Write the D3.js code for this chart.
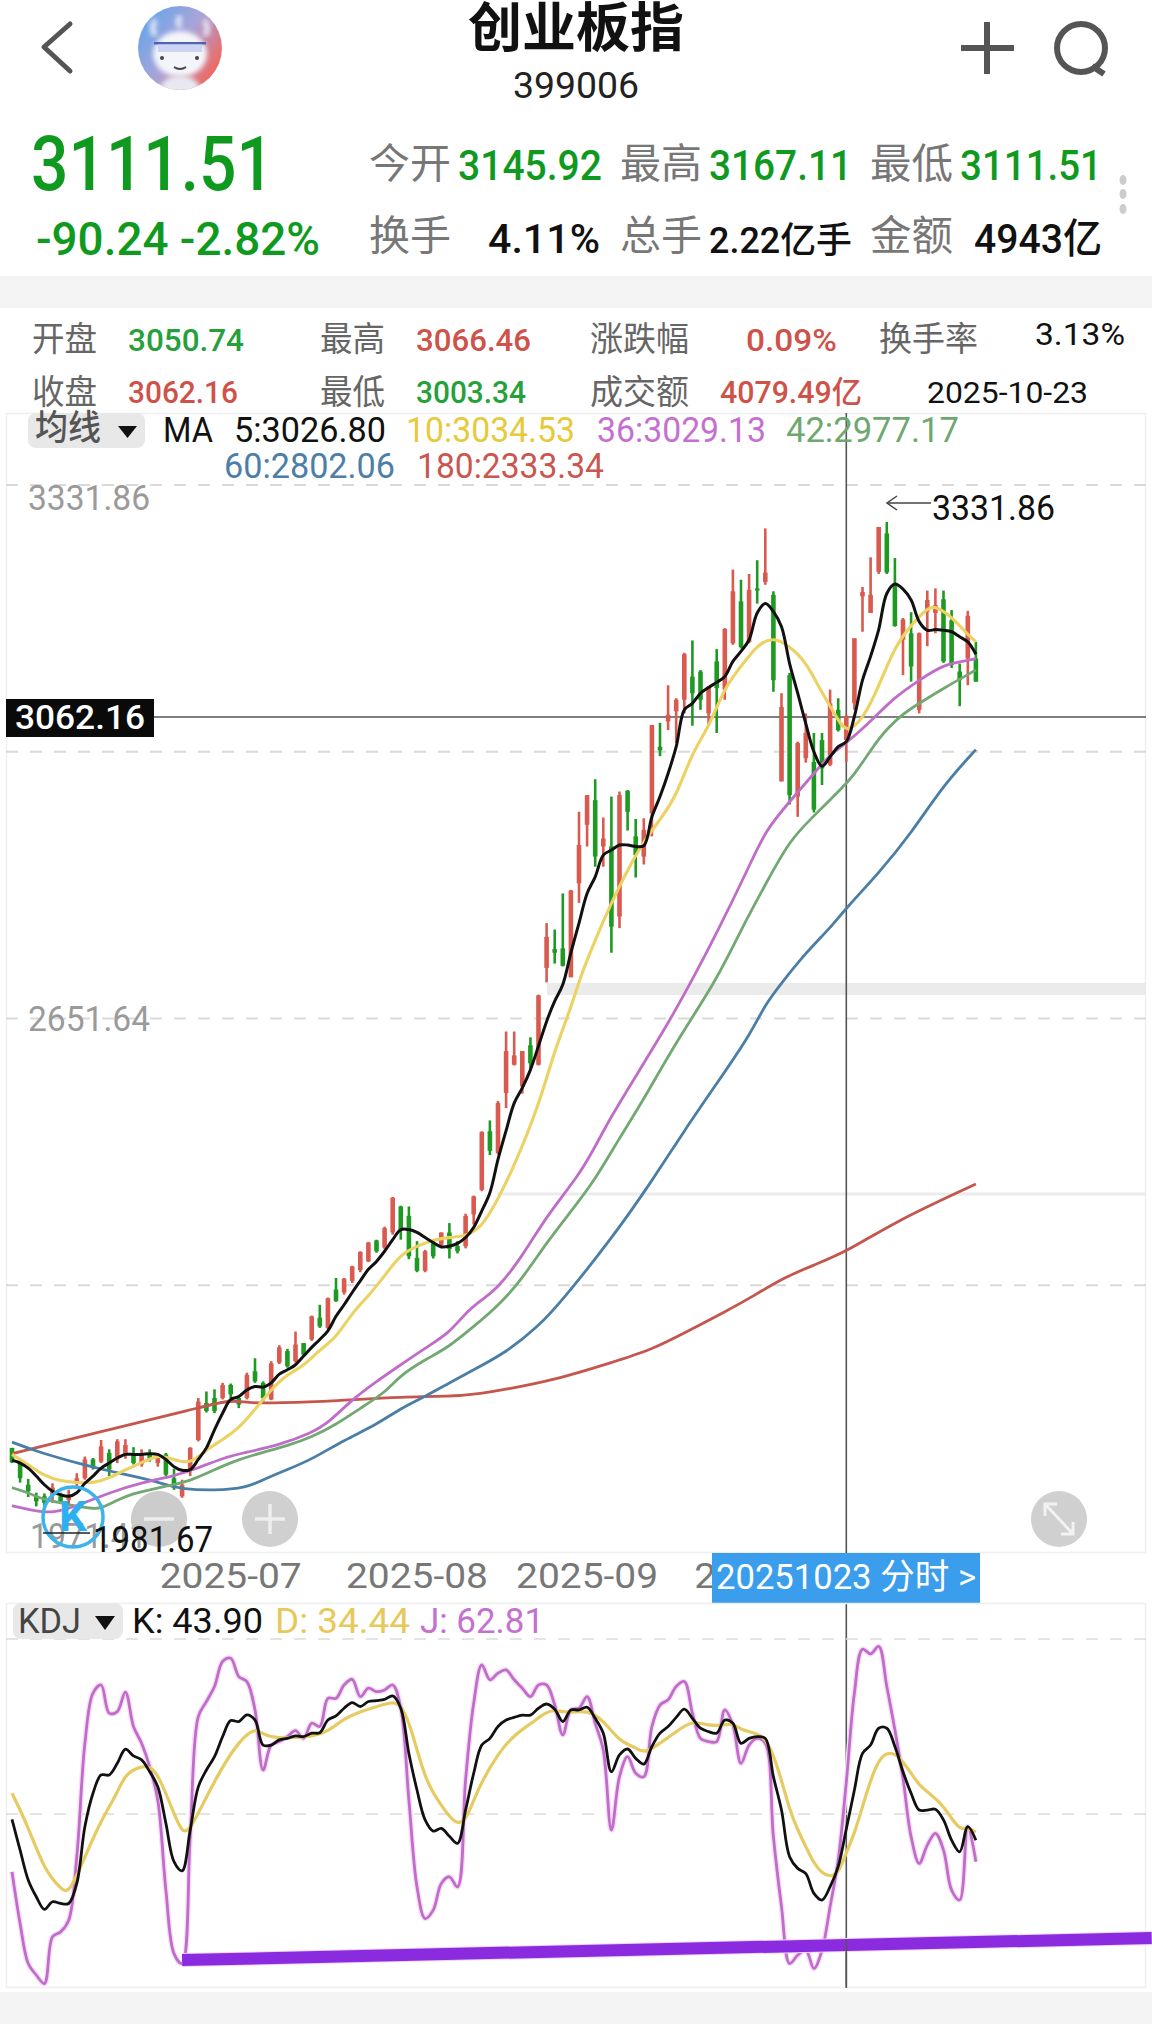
<!DOCTYPE html>
<html><head><meta charset="utf-8">
<script src="https://cdn.jsdelivr.net/npm/d3@7"></script>
<style>html,body{margin:0;padding:0;background:#fff}svg{display:block}</style>
</head><body><svg id="c" width="1152" height="2024" xmlns="http://www.w3.org/2000/svg"></svg>
<script>
// ---- data: [open, high, low, close] per trading day
const ohlc = [
[2051,2051,2030,2031],[2030,2035,2003,2009],[2000,2008,1983,1991],[1984,1989,1970,1977],[1984,1988,1969,1975],
[1986,2002,1975,1996],[1984,1989,1975,1977],[1979,1993,1972,1986],[2001,2016,1998,2009],[2009,2039,2007,2035],
[2035,2037,2021,2023],[2032,2062,2030,2053],[2044,2049,2012,2021],[2037,2063,2030,2060],[2042,2063,2036,2055],
[2043,2052,2028,2030],[2028,2049,2025,2042],[2044,2049,2032,2035],[2030,2044,2025,2039],[2042,2044,2012,2014],
[2009,2022,1993,1996],[1984,2007,1982,2000],[2019,2052,2012,2051],[2062,2120,2060,2115],[2113,2129,2100,2102],
[2120,2132,2099,2102],[2120,2141,2118,2138],[2138,2140,2120,2125],[2120,2122,2106,2111],[2120,2155,2118,2152],
[2157,2175,2141,2143],[2141,2143,2115,2120],[2118,2171,2117,2168],[2169,2193,2167,2190],[2185,2188,2162,2164],
[2171,2212,2169,2194],[2196,2196,2180,2180],[2201,2234,2199,2233],[2231,2249,2217,2219],[2217,2259,2215,2258],
[2270,2286,2253,2254],[2266,2286,2263,2285],[2282,2303,2279,2302],[2297,2323,2294,2322],[2309,2336,2308,2335],
[2338,2339,2321,2323],[2328,2357,2326,2355],[2349,2398,2346,2397],[2385,2386,2339,2353],[2372,2385,2312,2316],
[2314,2337,2294,2296],[2296,2325,2294,2323],[2334,2339,2313,2316],[2332,2349,2330,2349],[2349,2362,2313,2326],
[2330,2337,2320,2323],[2330,2375,2327,2372],[2374,2400,2360,2399],[2408,2489,2406,2488],[2489,2504,2456,2462],
[2459,2531,2457,2528],[2542,2627,2521,2600],[2581,2627,2580,2594],[2551,2600,2541,2600],[2608,2619,2574,2583],
[2581,2678,2580,2677],[2715,2777,2695,2758],[2741,2768,2721,2736],[2742,2818,2717,2718],[2702,2823,2702,2822],
[2832,2931,2805,2885],[2913,2954,2883,2954],[2947,2976,2855,2869],[2883,2923,2855,2894],[2883,2952,2736,2772],
[2786,2959,2770,2954],[2960,2961,2905,2931],[2897,2921,2840,2871],[2869,2922,2858,2906],[2929,3051,2897,3051],
[3021,3054,3008,3016],[3056,3106,3044,3065],[3070,3088,3026,3086],[3086,3151,3067,3149],[3118,3168,3050,3095],
[3125,3127,3072,3086],[3067,3105,3052,3104],[3139,3156,3040,3102],[3100,3185,3086,3184],[3164,3266,3162,3236],
[3222,3252,3157,3159],[3166,3260,3164,3238],[3240,3279,3219,3237],[3249,3323,3245,3262],[3231,3236,3097,3113],
[2973,3095,2973,3076],[3120,3123,2941,2954],[2952,3028,2924,3026],[3005,3067,2999,3040],[3000,3040,2930,2934],
[3030,3040,2968,2991],[2996,3100,2994,3081],[3072,3088,3042,3044],[3030,3065,3000,3063],[3081,3171,3072,3171],
[3229,3242,3180,3235],[3206,3283,3206,3231],[3263,3325,3260,3325],[3316,3332,3260,3262],[3247,3282,3187,3188],
[3169,3199,3120,3197],[3178,3207,3111,3132],[3072,3179,3067,3178],[3208,3237,3160,3224],[3206,3240,3178,3217],
[3225,3237,3137,3139],[3196,3210,3130,3134],[3125,3136,3077,3113],[3143,3209,3106,3202],[3143,3166,3111,3111]];

const ma5 = [2034,2030,2023,2012,2000,1991,1986,1984,1989,2002,
2012,2023,2030,2037,2042,2042,2042,2043,2042,2035,
2025,2020,2021,2035,2051,2076,2099,2118,2122,2131,
2136,2135,2141,2153,2159,2166,2178,2190,2201,2213,
2233,2249,2266,2282,2298,2309,2323,2339,2353,2353,
2349,2342,2335,2329,2330,2334,2342,2356,2379,2404,
2450,2490,2528,2549,2574,2607,2641,2669,2692,2736,
2777,2818,2841,2871,2878,2885,2885,2883,2884,2924,
2952,2984,3021,3072,3081,3095,3103,3110,3118,3139,
3153,3169,3206,3219,3208,3187,3136,3095,3053,3014,
2994,3007,3021,3028,3063,3113,3146,3183,3233,3246,
3239,3224,3194,3182,3183,3182,3180,3173,3166,3149];

const ma10Idx = [0,2,4,6,8,10,12,14,16,18,20,22,24,26,28,30,32,34,36,38,40,42,44,46,48,50,52,54,56,58,60,62,65,67,69,70,72,74,76,78,80,82,84,86,88,90,92,94,96,98,100,102,103,105,107,109,111,113,114,116,118,119];
const ma10 = [2042,2028,2012,2005,2003,2002,2009,2021,2030,2042,2035,2028,2049,2062,2078,2104,2132,2153,2164,2187,2203,2238,2261,2289,2319,2330,2339,2342,2344,2356,2395,2441,2523,2602,2659,2698,2754,2805,2851,2890,2920,2952,3014,3047,3104,3132,3162,3173,3160,3139,3095,3058,3040,3058,3104,3160,3189,3213,3216,3201,3176,3166];

const ma36Idx = [0,2,5,9,12,16,20,23,26,29,33,37,39,42,45,48,51,54,56,58,60,63,66,70,72,74,77,81,84,87,91,93,96,99,101,103,106,109,112,115,118,119];
const ma36 = [1971,1966,1959,1975,1989,2003,2012,2023,2037,2045,2055,2072,2085,2118,2143,2166,2189,2210,2238,2256,2272,2316,2372,2428,2468,2510,2565,2638,2699,2763,2855,2905,2945,2984,3010,3026,3056,3090,3113,3135,3140,3143];

const ma42Idx = [0,2,4,6,8,10,11,13,15,17,19,22,25,28,31,34,37,40,43,46,48,51,54,57,60,63,66,69,72,75,78,82,87,90,93,96,99,101,104,107,110,112,115,119];
const ma42 = [1996,1989,1979,1975,1970,1967,1967,1979,1988,1993,1998,2005,2021,2035,2045,2054,2066,2083,2106,2127,2152,2173,2191,2219,2247,2285,2335,2378,2422,2480,2533,2613,2698,2768,2830,2892,2925,2948,2980,3035,3067,3081,3102,3127];

const ma60Idx = [0,3,9,12,17,19,21,25,29,31,34,37,41,45,48,51,54,57,61,65,68,74,79,83,87,91,93,95,98,101,103,107,111,115,119];
const ma60 = [2059,2046,2027,2019,2007,2000,1994,1992,1996,2007,2021,2035,2062,2083,2106,2122,2141,2159,2183,2219,2256,2340,2420,2490,2555,2620,2665,2694,2736,2770,2798,2846,2901,2968,3017];

const ma180Idx = [0,10,23,27,29,33,40,48,56,61,67,74,79,83,88,92,95,99,103,109,119];
const ma180 = [2043,2071,2106,2118,2113,2113,2116,2122,2122,2132,2145,2169,2187,2210,2239,2264,2285,2304,2322,2364,2416];

const kdjK = [47.8,35.4,23.3,16.5,11.4,14.5,13.8,13.8,21.9,44.9,
58.4,65.8,65.8,70.5,76.2,73.5,71.9,67.1,61,46.2,
30.7,27,43.5,61,67.8,73.2,81.3,87.8,87.4,90.1,
88,77.9,77.9,80,80.6,81.6,81.3,82.7,82.9,88,
89.7,92.8,95.1,93.5,95.5,95.9,96.4,97.8,92.8,74.5,
59.7,47.6,43.1,44.2,41,38.1,51.6,66.5,77.9,80.6,
85.4,88,89.1,90,90,92.8,94.5,92.4,87.4,92.1,
92.1,93.2,88.7,82.7,67.1,73.9,76.3,72.5,70.2,77.3,
82.7,85.4,89.1,92.4,88.7,84.7,83.3,82.7,88,86.7,
78.6,80.6,81.3,80.6,65.1,51.6,32.7,28,25.9,17.9,
15.2,20.6,28.7,43.9,59.7,74.5,77.9,84.7,84.7,77.3,
67.1,58.4,51.6,51.6,51.9,47.6,39.4,34.7,44.9,39.4];

const kdjJ = [26.6,5.7,-10.5,-15.2,-18.6,0.3,2.3,7,32.7,78.6,
98.9,102.2,90.8,91.4,99.3,85.4,78.6,69.1,55.6,19.2,
-6.5,-10.5,40.8,89.4,95.5,101.6,111.7,113,105.6,103.6,
92.1,67.8,77.9,79.3,81.3,83.7,80.6,86.7,85.4,96.8,
96.8,102.2,104.5,97.5,100.9,99.5,100.2,102.2,92.8,55.7,
20.5,7.7,11.1,21.9,24.6,20.5,63.8,94.8,110.3,104.3,
107,108.3,104.3,100.9,97.5,102.2,102.2,94.1,82,92.1,
92.8,97.5,86.7,75.9,43.5,65.1,73.2,66.5,65.1,85.4,
94.1,96.2,101.6,103.6,90.8,80.6,79.3,79.3,92.1,86,
70.5,77.9,80.6,78.6,40.8,12.5,-10.5,-7.1,-5.1,-12.5,
-5.1,12.5,31.4,62.81,98.9,116.7,114.8,117.8,101.6,84,
64.4,40.8,30,37.4,42.2,35.4,19.2,15.2,44.9,30.7];

const kdjDIdx = [0,2,4,6,7,9,11,13,14,16,17,18,20,21,22,24,26,28,30,31,33,35,37,39,41,43,45,47,48,49,50,51,52,53,54,55,56,57,58,60,62,64,66,67,69,71,73,75,77,78,80,82,84,86,88,89,90,92,93,94,95,96,97,98,99,100,101,102,103,104,105,106,107,108,109,110,111,112,113,114,115,116,117,118,119];
const kdjD = [58.4,44.9,27.3,19.9,17.2,32.7,47.5,58.4,66.5,69.4,69.1,66.5,50.2,42.2,43.5,57,69.2,79.3,85.1,82,80.6,81,81.3,83.3,88.7,91.4,93.4,95.5,94.1,87.4,75.9,65.1,58.4,53.6,48.9,45.9,47.5,55.6,63.1,74.5,82,86.4,91.4,92.1,90.8,92.1,88,79.3,77,74.3,78.6,83.3,88,85.6,86,86.7,84,82.6,80.6,73.9,63.8,51.6,43.5,36.8,30,26,24.6,25.7,34.44,42,53,63.8,71.9,74.8,74.5,71.2,66.5,61.7,59,56.3,53,48.2,43.8,44.2,42.8];

const trendIdx = [21,140.7];
const trendVal = [-9.1,-0.2];

const gridPrices = [3331.86,2991.75,2651.64,2311.52,1971.41];
const priceLabels = [3331.86,2651.64,1971.41];
const kdjGrid = [120,50];
const monthTicks = [["2025-07",27],["2025-08",50],["2025-09",71],["2025-10",93]];
const crossIndex = 103, lastClose = 3062.16, periodHigh = 3331.86, periodLow = 1981.67;

// ---- scales
const x = d3.scaleLinear().domain([0,119]).range([12,975.9]);
const y = d3.scaleLinear().domain([1981.67,3331.86]).range([1498,522]);
const yGrid = d3.scaleLinear().domain([1971.41,3331.86]).range([1552,485]);
const yK = d3.scaleLinear().domain([-20,120]).range([1987,1641]);

const RED="#d95a4e", GREEN="#1e9a22", BLACK="#111", YEL="#ecd163", PUR="#c06cc9", MGRN="#72a872", BLUE="#4a7ea6", MRED="#c4564d";
const svg = d3.select("#c");
const CJK = '"Roboto","Noto Sans CJK SC",sans-serif';

function T(s,x0,x1,base,size,color,weight){
  return svg.append("text").attr("x",x0).attr("y",base).attr("font-family",CJK)
   .attr("font-size",size*1.06).attr("fill",color).attr("font-weight",weight||400)
   .attr("textLength",x1-x0).attr("lengthAdjust","spacingAndGlyphs").text(s);
}
function rect(a,b,w,h,f){return svg.append("rect").attr("x",a).attr("y",b).attr("width",w).attr("height",h).attr("fill",f);}
function ln(a,b,c,d,s,w){return svg.append("line").attr("x1",a).attr("y1",b).attr("x2",c).attr("y2",d).attr("stroke",s).attr("stroke-width",w);}

// ---- page bands
rect(0,276,1152,32,"#f4f4f4");
rect(0,1992,1152,32,"#f4f4f4");

// ---- header
svg.append("path").attr("d","M70,24L44,47L70,71").attr("fill","none").attr("stroke","#555").attr("stroke-width",5).attr("stroke-linecap","round").attr("stroke-linejoin","round");
const defs = svg.append("defs");
const g1 = defs.append("linearGradient").attr("id","av").attr("x1","0").attr("y1","0").attr("x2","1").attr("y2","0.7");
g1.append("stop").attr("offset","0").attr("stop-color","#5aa5ee");
g1.append("stop").attr("offset","0.55").attr("stop-color","#a8a4d8");
g1.append("stop").attr("offset","1").attr("stop-color","#f2665c");
defs.append("filter").attr("id","bl").append("feGaussianBlur").attr("stdDeviation",2.5);
defs.append("clipPath").attr("id","avc").append("circle").attr("cx",180).attr("cy",48).attr("r",42);
svg.append("circle").attr("cx",180).attr("cy",48).attr("r",42).attr("fill","url(#av)");
const av = svg.append("g").attr("clip-path","url(#avc)");
av.append("ellipse").attr("cx",180).attr("cy",54).attr("rx",27).attr("ry",23).attr("fill","#f4f5fb").attr("filter","url(#bl)");
av.append("ellipse").attr("cx",180).attr("cy",90).attr("rx",20).attr("ry",15).attr("fill","#e8e8f2").attr("filter","url(#bl)");
av.append("path").attr("d","M155,36Q150,26 156,20M205,36Q210,26 204,20M180,28Q176,20 181,16").attr("fill","none").attr("stroke","#e6ebf8").attr("stroke-width",5).attr("filter","url(#bl)");
av.append("rect").attr("x",154).attr("y",42).attr("width",52).attr("height",2.5).attr("fill","#4f63b4");
av.append("rect").attr("x",158).attr("y",44).attr("width",44).attr("height",8).attr("fill","#b9c6ee").attr("opacity",0.7);
av.append("circle").attr("cx",162).attr("cy",58).attr("r",2).attr("fill","#444");
av.append("circle").attr("cx",197).attr("cy",58).attr("r",2).attr("fill","#444");
av.append("path").attr("d","M174,67Q180,71 186,67").attr("fill","none").attr("stroke","#444").attr("stroke-width",1.8);

T("创业板指",468,684,47,50,"#111",700);
T("399006",513,639,98,34,"#222");
ln(961,48,1014,48,"#555",6); ln(987,22,987,74,"#555",6);
svg.append("circle").attr("cx",1081).attr("cy",48).attr("r",24).attr("fill","none").attr("stroke","#555").attr("stroke-width",6);
ln(1092,66,1104,74,"#555",6);

const HG="#0f9a1f", GY="#777";
T("3111.51",31,274,190,72,HG,500);
T("-90.24 -2.82%",36,320,255,43,HG,500);
[["今开",369,451,"3145.92",458,602,HG],["最高",620,702,"3167.11",709,852,HG],["最低",870,953,"3111.51",960,1102,HG]].forEach(r=>{
  T(r[0],r[1],r[2],178,39,GY); T(r[3],r[4],r[5],180,40,r[6],500);
});
[["换手",369,451,"4.11%",488,600],["总手",620,702,"2.22亿手",709,852],["金额",870,953,"4943亿",974,1102]].forEach(r=>{
  T(r[0],r[1],r[2],250,39,GY); T(r[3],r[4],r[5],253,r[3].length>5?34:39,"#111",500);
});
[180,194,209].forEach(c=>svg.append("ellipse").attr("cx",1123).attr("cy",c).attr("rx",3.5).attr("ry",5).attr("fill","#ccc"));

// ---- stats rows
const GY2="#666";
[["开盘",32,97,351],["最高",320,385,351],["涨跌幅",590,689,351],["换手率",879,978,351],["收盘",32,97,404],["最低",320,385,404],["成交额",590,689,404]].forEach(r=>T(r[0],r[1],r[2],r[3],32,GY2));
T("3050.74",128,244,351,29,"#25a03a",500);
T("3066.46",416,531,351,29,"#cf524a",500);
T("0.09%",746,837,351,29,"#cf524a",500);
T("3.13%",1035,1125,345,29,"#111");
T("3062.16",128,238,403,29,"#cf524a",500);
T("3003.34",416,526,403,29,"#25a03a",500);
T("4079.49亿",720,862,403,29,"#cf524a",500);
T("2025-10-23",927,1088,403,28,"#111");

// ---- main panel frame + grid
svg.append("rect").attr("x",6.5).attr("y",413.5).attr("width",1139).attr("height",1139).attr("fill","none").attr("stroke","#efefef").attr("stroke-width",1.5);
svg.append("g").selectAll("line").data(gridPrices.slice(0,-1)).join("line")
  .attr("x1",6).attr("x2",1146).attr("y1",d=>yGrid(d)).attr("y2",d=>yGrid(d))
  .attr("stroke","#d9d9d9").attr("stroke-width",1.8).attr("stroke-dasharray","12,12");
rect(547,983,599,12,"#ebebeb");
rect(497,1192.5,649,3,"#ebebeb");

// ---- crosshair
ln(x(crossIndex),413,x(crossIndex),1988,"#555",1.6);
ln(6,y(lastClose),1146,y(lastClose),"#555",1.6);

// ---- candles
const cg = svg.append("g");
const col = d=>d[3]>=d[0]?RED:GREEN;
cg.selectAll(".w").data(ohlc).join("line").attr("class","w")
  .attr("x1",(d,i)=>x(i)).attr("x2",(d,i)=>x(i)).attr("y1",d=>y(d[1])).attr("y2",d=>y(d[2]))
  .attr("stroke",col).attr("stroke-width",2.6);
cg.selectAll(".b").data(ohlc).join("rect").attr("class","b")
  .attr("x",(d,i)=>x(i)-2.3).attr("width",4.6)
  .attr("y",d=>y(Math.max(d[0],d[3]))).attr("height",d=>Math.max(1.5,Math.abs(y(d[0])-y(d[3]))))
  .attr("fill",col);

// ---- moving averages
function drawLine(idx,vals,yS,color,w,curve){
  const gen = d3.line().x(d=>x(d[0])).y(d=>yS(d[1])).curve(curve||d3.curveCatmullRom.alpha(0.5));
  svg.append("path").attr("d",gen(idx.map((v,i)=>[v,vals[i]]))).attr("fill","none").attr("stroke",color)
    .attr("stroke-width",w).attr("stroke-linejoin","round");
}
const seq = ma5.map((_,i)=>i);
drawLine(ma180Idx,ma180,y,MRED,2.8,d3.curveBasis);
drawLine(ma60Idx,ma60,y,BLUE,2.8,d3.curveBasis);
drawLine(ma42Idx,ma42,y,MGRN,2.8,d3.curveBasis);
drawLine(ma36Idx,ma36,y,PUR,2.8,d3.curveBasis);
drawLine(ma10Idx,ma10,y,YEL,3.1,d3.curveBasis);
drawLine(seq,ma5,y,BLACK,3);

// ---- price labels
const labX = {3331.86:[28,150,510],2651.64:[28,150,1031],1971.41:[30,147,1548]};
priceLabels.forEach(p=>{const l=labX[p];T(p.toFixed(2),l[0],l[1],l[2],33,"#9a9a9a");});

// ---- last close tag
rect(6,699,148,38,"#0a0a0a");
T(lastClose.toFixed(2),15,145,729,32,"#fff",500);

// ---- floating buttons
[[159,"minus"],[270,"plus"],[1059,"exp"]].forEach(b=>{
  svg.append("circle").attr("cx",b[0]).attr("cy",1519).attr("r",28).attr("fill",b[1]==="minus"?"#c9c9c9":"#cecece").attr("opacity",0.95);
  if(b[1]!=="exp") ln(b[0]-15,1519,b[0]+15,1519,"#eee",3.5);
  if(b[1]==="plus") ln(b[0],1504,b[0],1534,"#eee",3.5);
});
svg.append("path").attr("d","M1045,1516L1045,1504L1057,1504M1045,1504L1073,1534M1073,1522L1073,1534L1061,1534")
  .attr("fill","none").attr("stroke","#f2f2f2").attr("stroke-width",3);
svg.append("circle").attr("cx",73).attr("cy",1517).attr("r",30).attr("fill","none").attr("stroke","#3cb4ea").attr("stroke-width",3.5);
T("K",59,87,1531,40,"#2fb0ee",700);
ln(43,1533,90,1533,"#222",1.5);
T(periodLow.toFixed(2),93,213,1552,35,"#111");

// high marker
T(periodHigh.toFixed(2),932,1055,520,33,"#111");
ln(887,503,931,503,"#444",1.5);
svg.append("path").attr("d","M897,496L887,503L897,510").attr("fill","none").attr("stroke","#444").attr("stroke-width",1.5);

// ---- MA legend
svg.append("rect").attr("x",28).attr("y",413).attr("width",117).attr("height",35).attr("rx",8).attr("fill","#e8e8e8");
T("均线",35,101,440,33,"#555",500);
svg.append("path").attr("d","M118,426L137,426L127.5,438Z").attr("fill","#111");
T("MA",163,213,442,33,"#111");
T("5:3026.80",234,386,442,33,"#111");
T("10:3034.53",406,575,442,33,"#e8c93c");
T("36:3029.13",597,766,442,33,"#c56fd0");
T("42:2977.17",786,959,442,33,"#6fa86f");
T("60:2802.06",224,395,478,33,"#4d7ea8");
T("180:2333.34",417,604,478,33,"#c9574f");

// ---- month ticks
monthTicks.forEach(m=>{const c=x(m[1]);T(m[0],c-71,c+71,1588,33,"#777");});
rect(712,1553,268,50,"#3b9eec");
T("20251023 分时 >",716,976,1589,33,"#fff");

// ---- KDJ panel
svg.append("rect").attr("x",6.5).attr("y",1603.5).attr("width",1139).attr("height",384).attr("fill","none").attr("stroke","#efefef").attr("stroke-width",1.5);
svg.append("g").selectAll("line").data(kdjGrid).join("line")
  .attr("x1",6).attr("x2",1146).attr("y1",d=>yK(d)-(d===120?2:0)).attr("y2",d=>yK(d)-(d===120?2:0))
  .attr("stroke","#dcdcdc").attr("stroke-width",1.5).attr("stroke-dasharray","12,12");
svg.append("rect").attr("x",13).attr("y",1603).attr("width",110).attr("height",36).attr("rx",8).attr("fill","#e8e8e8");
T("KDJ",18,81,1633,33,"#444");
svg.append("path").attr("d","M95,1616L115,1616L105,1630Z").attr("fill","#111");
T("K: 43.90",132,263,1633,33,"#111");
T("D: 34.44",275,410,1633,33,"#e6c95a");
T("J: 62.81",420,544,1633,33,"#c56fd0");

drawLine(seq,kdjJ,yK,"#f6def8",5.5);
drawLine(seq,kdjJ,yK,PUR,2.8);
drawLine(kdjDIdx,kdjD,yK,"#e6cb62",3.2,d3.curveBasis);
drawLine(seq,kdjK,yK,BLACK,2.8);
svg.append("line").attr("x1",x(trendIdx[0])).attr("y1",yK(trendVal[0])).attr("x2",x(trendIdx[1])).attr("y2",yK(trendVal[1]))
  .attr("stroke","#efd3f8").attr("stroke-width",14);
svg.append("line").attr("x1",x(trendIdx[0])).attr("y1",yK(trendVal[0])).attr("x2",x(trendIdx[1])).attr("y2",yK(trendVal[1]))
  .attr("stroke","#8a2bdf").attr("stroke-width",12);
ln(x(crossIndex),1940,x(crossIndex),1988,"#555",1.6);
</script></body></html>
